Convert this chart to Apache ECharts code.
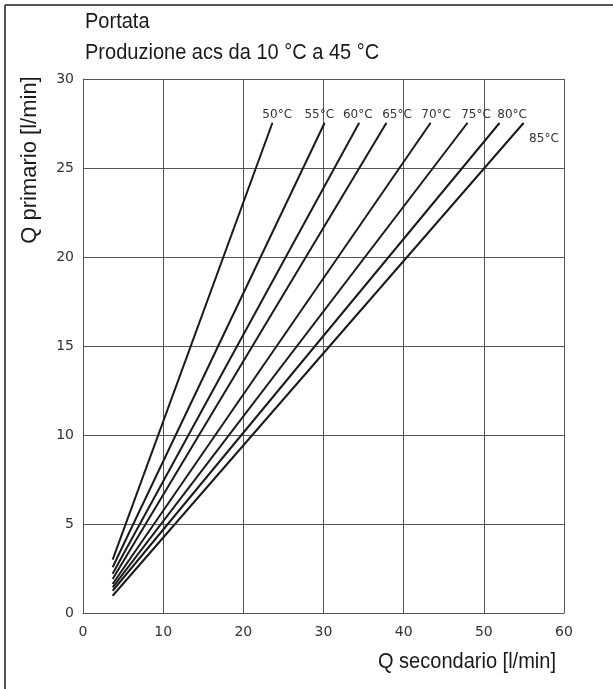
<!DOCTYPE html>
<html>
<head>
<meta charset="utf-8">
<title>Portata</title>
<script src="https://cdn.jsdelivr.net/npm/echarts@6/dist/echarts.min.js"></script>
<style>
  html, body { margin: 0; padding: 0; background: #fff; }
  #chart { width: 613px; height: 689px; }
</style>
</head>
<body>
<div id="chart"></div>
<script>
// primary circuit temperature of each curve
const temperatures = ['50°C', '55°C', '60°C', '65°C', '70°C', '75°C', '80°C', '85°C']
// Q secondario [l/min] at start / end of each curve
const qSecStart = [3.7, 3.7, 3.7, 3.7, 3.7, 3.7, 3.7, 3.7]
const qSecEnd = [23.6, 30.1, 34.4, 37.8, 43.3, 47.9, 51.9, 54.9]
// Q primario [l/min] at start / end of each curve
const qPrimStart = [3.0, 2.57, 2.2, 1.91, 1.63, 1.44, 1.25, 0.97]
const qPrimEnd = [27.5, 27.5, 27.5, 27.5, 27.5, 27.5, 27.5, 27.5]

// label placement in pixels (style only)
const labelOffsets = [[5, 0], [-5, 0], [-1, 0], [11, 0], [6, 0], [9, 0], [13, 0], [0, 15]]

const FONT_TEXT = '"Liberation Sans", Arial, sans-serif'
const FONT_TICK = '"DejaVu Sans", sans-serif'
const INK = '#1a1a1a'

const chart = echarts.init(document.getElementById('chart'), null, { renderer: 'canvas' })

const series = temperatures.map((name, i) => {
  const last = i === temperatures.length - 1
  return {
    name: name,
    type: 'line',
    silent: true,
    animation: false,
    showSymbol: true,
    symbol: 'circle',
    symbolSize: 2,
    itemStyle: { color: INK },
    lineStyle: { color: INK, width: 2 },
    data: [
      { value: [qSecStart[i], qPrimStart[i]], symbol: 'none' },
      {
        value: [qSecEnd[i], qPrimEnd[i]],
        label: {
          show: true,
          formatter: name,
          position: last ? 'right' : 'top',
          distance: last ? 5 : 2,
          offset: labelOffsets[i],
          color: '#333',
          fontFamily: FONT_TICK,
          fontSize: 12
        }
      }
    ]
  }
})

chart.setOption({
  animation: false,
  grid: { left: 83, right: 49, top: 79, bottom: 76 },
  xAxis: {
    type: 'value',
    min: 0,
    max: 60,
    interval: 10,
    axisLine: { show: true, lineStyle: { color: '#555', width: 1 } },
    axisTick: { show: false },
    axisLabel: { margin: 12, color: '#333', fontFamily: FONT_TICK, fontSize: 14 },
    splitLine: { show: true, lineStyle: { color: '#555', width: 1 } }
  },
  yAxis: {
    type: 'value',
    min: 0,
    max: 30,
    interval: 5,
    axisLine: { show: true, lineStyle: { color: '#555', width: 1 } },
    axisTick: { show: false },
    axisLabel: { margin: 9, color: '#333', fontFamily: FONT_TICK, fontSize: 14 },
    splitLine: { show: true, lineStyle: { color: '#555', width: 1 } }
  },
  graphic: [
    // frame: only top and left edges
    { type: 'line', shape: { x1: 5, y1: 5, x2: 613, y2: 5 }, style: { stroke: '#555', lineWidth: 2 } },
    { type: 'line', shape: { x1: 5, y1: 5, x2: 5, y2: 689 }, style: { stroke: '#555', lineWidth: 2 } },
    {
      type: 'text',
      x: 85,
      y: 6,
      scaleX: 0.91,
      style: {
        text: 'Portata\nProduzione acs da 10 °C a 45 °C',
        fill: INK,
        font: '22px ' + FONT_TEXT,
        lineHeight: 31
      }
    },
    {
      type: 'text',
      x: 30,
      y: 160,
      rotation: Math.PI / 2,
      style: {
        text: 'Q primario [l/min]',
        fill: INK,
        font: '22px ' + FONT_TEXT,
        textAlign: 'center',
        textVerticalAlign: 'middle'
      }
    },
    {
      type: 'text',
      x: 556,
      y: 662,
      scaleX: 0.91,
      style: {
        text: 'Q secondario [l/min]',
        fill: INK,
        font: '22px ' + FONT_TEXT,
        textAlign: 'right',
        textVerticalAlign: 'middle'
      }
    }
  ],
  series: series
})
</script>
</body>
</html>
